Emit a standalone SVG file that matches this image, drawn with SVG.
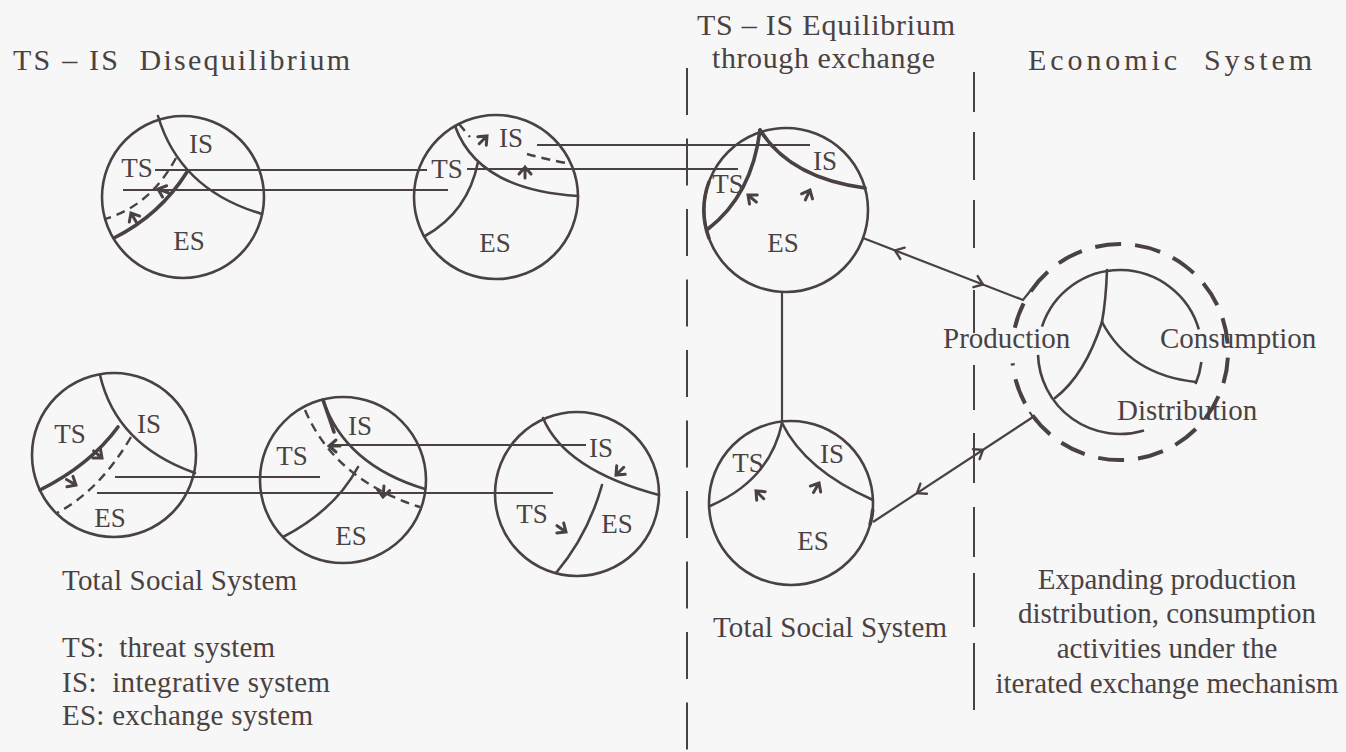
<svg xmlns="http://www.w3.org/2000/svg" width="1346" height="752" viewBox="0 0 1346 752">
<style>
 .bg{fill:#f7f7f7}
 .c{fill:none;stroke:#4a4242;stroke-width:2.6}
 .b{fill:none;stroke:#4a4242;stroke-width:2.6;stroke-linecap:round}
 .bt{fill:none;stroke:#4a4242;stroke-width:3.6;stroke-linecap:round}
 .d{fill:none;stroke:#4a4242;stroke-width:2.4;stroke-dasharray:9 6}
 .ln{fill:none;stroke:#4a4242;stroke-width:2.2}
 .ar{fill:none;stroke:#4a4242;stroke-width:3;stroke-linecap:round}
 .ac{fill:none;stroke:#4a4242;stroke-width:2.4;stroke-linecap:round}
 .sep{fill:none;stroke:#4a4242;stroke-width:2}
 .ec{fill:none;stroke:#4a4242;stroke-width:4;stroke-dasharray:26 14}
 text{font-family:"Liberation Serif","Times New Roman",serif;fill:#4a4242}
 .lb{font-size:27px;text-anchor:middle}
 .t{font-size:29px}
 .tm{font-size:29px;text-anchor:middle}
 .h{font-size:30px}
</style>
<defs>
 <path id="ch" d="M-8,-6 L0,0 L-8,6"/>
 <path id="cs" d="M-7,-6 L0,0 L-7,6 M0,0 L-11,0"/>
</defs>
<rect class="bg" x="0" y="0" width="1346" height="752"/>

<g id="headers">
 <text class="h" x="13" y="70" textLength="337" lengthAdjust="spacing" xml:space="preserve">TS – IS  Disequilibrium</text>
 <text class="h" x="697" y="35" textLength="258" lengthAdjust="spacing">TS – IS Equilibrium</text>
 <text class="h" x="712" y="68" textLength="223" lengthAdjust="spacing">through exchange</text>
 <text class="h" x="1028" y="70" textLength="284" lengthAdjust="spacing" xml:space="preserve">Economic  System</text>
</g>

<g id="separators" class="sep">
 <path d="M687,68 V752" style="stroke-dasharray:47 23.5"/>
 <path d="M974,72 V112 M974,132 V180 M974,200 V248 M974,290 V333 M974,365 V410 M974,433 V483 M974,507 V557 M974,573 V627 M974,643 V710"/>
</g>

<g id="connectors" class="ln">
 <path d="M155,170 H427"/>
 <path d="M123,190 H448"/>
 <path d="M467,169 H738"/>
 <path d="M537,145 H810"/>
 <path d="M115,477 H320"/>
 <path d="M97,493 H553"/>
 <path d="M330,445 H586"/>
 <path d="M782,293 V422"/>
 <path d="M863,238 L1023,300 L1031,290"/>
 <path d="M873,522 L1033,417 M1029.6,412 L1036.4,422"/>
 <use href="#ch" class="ac" transform="translate(895,250.4) rotate(201.2)"/>
 <use href="#ch" class="ac" transform="translate(983,284.5) rotate(21.2)"/>
 <use href="#ch" class="ac" transform="translate(917,493.1) rotate(146.7)"/>
 <use href="#ch" class="ac" transform="translate(983,449.8) rotate(-33.3)"/>
</g>

<g id="node-c1">
 <circle class="c" cx="183" cy="197" r="81"/>
 <path class="b" d="M158,116 Q180,190 262,214"/>
 <path class="bt" d="M187,172 Q160,215 114,238"/>
 <path class="d" d="M176,158 Q150,206 105,219"/>
 <use href="#cs" class="ar" transform="translate(158,189) rotate(-160)"/>
 <use href="#cs" class="ar" transform="translate(131,213) rotate(-120)"/>
 <text class="lb" x="137" y="177">TS</text>
 <text class="lb" x="201" y="153">IS</text>
 <text class="lb" x="189" y="250">ES</text>
</g>

<g id="node-c2">
 <circle class="c" cx="496" cy="197" r="82"/>
 <path class="b" d="M455,126 Q478,190 578,196"/>
 <path class="b" d="M478,162 Q468,212 425,236"/>
 <path class="d" d="M459,124 L470,137"/>
 <path class="d" d="M527,154 Q545,159 566,163"/>
 <use href="#cs" class="ar" transform="translate(487,136) rotate(-45)"/>
 <use href="#cs" class="ar" transform="translate(525,167) rotate(-90)"/>
 <text class="lb" x="447" y="178">TS</text>
 <text class="lb" x="511" y="147">IS</text>
 <text class="lb" x="495" y="252">ES</text>
</g>

<g id="node-c3">
 <circle class="c" cx="786" cy="210" r="82"/>
 <path class="bt" d="M760,130 Q752,195 708,229"/>
 <path class="bt" d="M760,130 Q790,178 865,188"/>
 <path class="bt" d="M708.9,182 A82,82 0 0 0 708.9,238"/>
 <use href="#cs" class="ar" transform="translate(748,195) rotate(-140)"/>
 <use href="#cs" class="ar" transform="translate(810,190) rotate(-65)"/>
 <text class="lb" x="728" y="193">TS</text>
 <text class="lb" x="825" y="170">IS</text>
 <text class="lb" x="783" y="252">ES</text>
</g>

<g id="node-c4">
 <circle class="c" cx="791" cy="503" r="82"/>
 <path class="b" d="M782,423 Q770,480 710,506"/>
 <path class="b" d="M782,423 Q805,470 873,500"/>
 <path class="bt" d="M872.7,510 A82,82 0 0 1 870.2,524"/>
 <use href="#cs" class="ar" transform="translate(756,491) rotate(-135)"/>
 <use href="#cs" class="ar" transform="translate(819,483) rotate(-60)"/>
 <text class="lb" x="748" y="472">TS</text>
 <text class="lb" x="832" y="463">IS</text>
 <text class="lb" x="813" y="550">ES</text>
</g>

<g id="node-c5">
 <circle class="c" cx="114" cy="455" r="82"/>
 <path class="b" d="M100,375 C108,410 130,450 195,473"/>
 <path class="bt" d="M118,427 Q90,465 40,490"/>
 <path class="d" d="M131,437 Q100,490 57,513"/>
 <use href="#cs" class="ar" transform="translate(102,458) rotate(40)"/>
 <use href="#cs" class="ar" transform="translate(76,485) rotate(30)"/>
 <text class="lb" x="70" y="443">TS</text>
 <text class="lb" x="149" y="433">IS</text>
 <text class="lb" x="110" y="527">ES</text>
</g>

<g id="node-c6">
 <circle class="c" cx="343" cy="480" r="83"/>
 <path class="b" d="M323,400 Q345,465 425,489"/>
 <path class="bt" d="M323,400 Q330,420 334,432"/>
 <path class="b" d="M358,467 Q335,510 283,537"/>
 <path class="d" d="M305,410 Q335,480 420,507"/>
 <use href="#cs" class="ar" transform="translate(329,446) rotate(180)"/>
 <use href="#cs" class="ar" transform="translate(383,497) rotate(95)"/>
 <text class="lb" x="292" y="465">TS</text>
 <text class="lb" x="360" y="435">IS</text>
 <text class="lb" x="351" y="545">ES</text>
</g>

<g id="node-c7">
 <circle class="c" cx="577" cy="494" r="82"/>
 <path class="b" d="M543,418 Q565,470 659,495"/>
 <path class="b" d="M602,485 Q588,535 556,573"/>
 <use href="#cs" class="ar" transform="translate(616,475) rotate(135)"/>
 <use href="#cs" class="ar" transform="translate(566,532) rotate(35)"/>
 <text class="lb" x="601" y="457">IS</text>
 <text class="lb" x="532" y="523">TS</text>
 <text class="lb" x="617" y="533">ES</text>
</g>

<g id="node-economic">
 <path class="ec" d="M1014.8,327.7 A108,108 0 1 1 1012.6,363.3"/>
 <path class="c" d="M1042,326.7 A82,82 0 0 1 1198.8,329.4"/>
 <path class="c" d="M1201.4,362 A82,82 0 0 1 1195.5,384"/>
 <path class="c" d="M1144,430.4 A82,82 0 0 1 1038,354.9"/>
 <path class="b" d="M1107,270 Q1106,300 1102,322"/>
 <path class="b" d="M1102,322 Q1085,375 1055,398"/>
 <path class="b" d="M1102,322 Q1130,375 1196,382"/>
 <text class="t" x="943" y="348">Production</text>
 <text class="t" x="1160" y="348">Consumption</text>
 <text class="t" x="1117" y="420">Distribution</text>
</g>

<g id="captions">
 <text class="t" x="62" y="590" textLength="235" lengthAdjust="spacing">Total Social System</text>
 <text class="t" x="62" y="657" textLength="213" lengthAdjust="spacing" xml:space="preserve">TS:  threat system</text>
 <text class="t" x="62" y="692" textLength="268" lengthAdjust="spacing" xml:space="preserve">IS:  integrative system</text>
 <text class="t" x="62" y="725" textLength="251" lengthAdjust="spacing">ES: exchange system</text>
 <text class="t" x="713" y="637" textLength="234" lengthAdjust="spacing">Total Social System</text>
 <text class="tm" x="1167" y="589">Expanding production</text>
 <text class="tm" x="1167" y="623">distribution, consumption</text>
 <text class="tm" x="1167" y="658">activities under the</text>
 <text class="tm" x="1167" y="693">iterated exchange mechanism</text>
</g>
</svg>
